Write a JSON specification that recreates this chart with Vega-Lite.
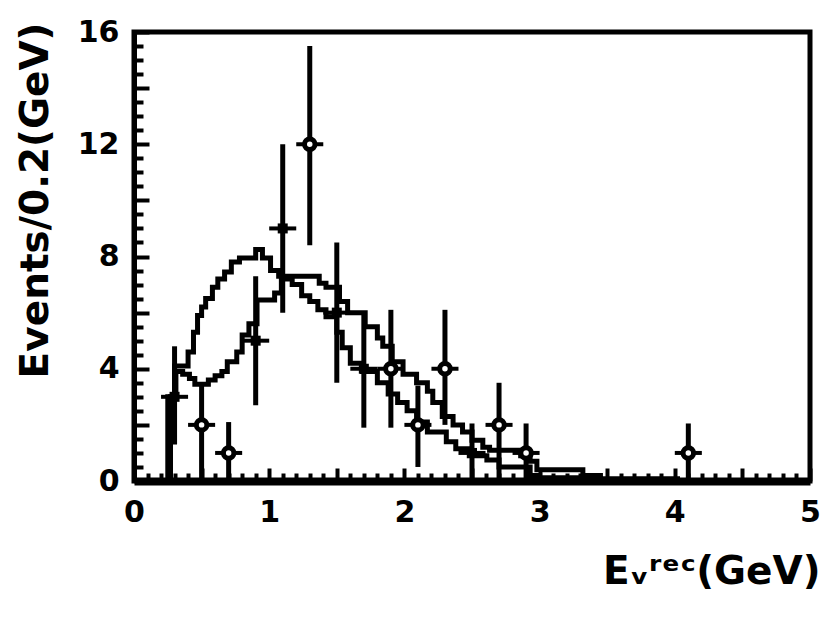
{
  "$schema": "https://vega.github.io/schema/vega-lite/v6.json",
  "autosize": {"type": "none"},
  "padding": {"left": 134, "top": 32, "right": 20, "bottom": 143},
  "width": 676,
  "height": 449,
  "background": "white",
  "config": {
    "view": {"stroke": "black", "strokeWidth": 5},
    "font": "DejaVu Sans",
    "axis": {"grid": false, "tickColor": "black", "domainColor": "black", "labelColor": "black", "titleColor": "black", "zindex": 1}
  },
  "resolve": {"axis": {"x": "independent", "y": "independent"}},
  "datasets": {
    "hist": [
      {"curve": "A", "E": 0.2, "v": 0},
      {"curve": "A", "E": 0.25, "v": 3.0},
      {"curve": "A", "E": 0.3, "v": 4.1},
      {"curve": "A", "E": 0.4, "v": 4.6},
      {"curve": "A", "E": 0.44, "v": 5.3},
      {"curve": "A", "E": 0.47, "v": 5.9},
      {"curve": "A", "E": 0.5, "v": 6.2},
      {"curve": "A", "E": 0.53, "v": 6.5},
      {"curve": "A", "E": 0.58, "v": 6.9},
      {"curve": "A", "E": 0.62, "v": 7.2},
      {"curve": "A", "E": 0.67, "v": 7.45},
      {"curve": "A", "E": 0.72, "v": 7.8},
      {"curve": "A", "E": 0.78, "v": 7.95},
      {"curve": "A", "E": 0.9, "v": 8.25},
      {"curve": "A", "E": 0.95, "v": 7.95},
      {"curve": "A", "E": 1.01, "v": 7.5},
      {"curve": "A", "E": 1.07, "v": 7.3},
      {"curve": "A", "E": 1.37, "v": 7.05},
      {"curve": "A", "E": 1.42, "v": 6.9},
      {"curve": "A", "E": 1.52, "v": 6.4},
      {"curve": "A", "E": 1.58, "v": 6.0},
      {"curve": "A", "E": 1.71, "v": 5.5},
      {"curve": "A", "E": 1.8, "v": 5.1},
      {"curve": "A", "E": 1.84, "v": 4.8},
      {"curve": "A", "E": 1.91, "v": 4.25},
      {"curve": "A", "E": 1.99, "v": 3.8},
      {"curve": "A", "E": 2.09, "v": 3.5},
      {"curve": "A", "E": 2.17, "v": 3.2},
      {"curve": "A", "E": 2.21, "v": 2.8},
      {"curve": "A", "E": 2.28, "v": 2.3},
      {"curve": "A", "E": 2.36, "v": 2.0},
      {"curve": "A", "E": 2.43, "v": 1.75},
      {"curve": "A", "E": 2.5, "v": 1.45},
      {"curve": "A", "E": 2.58, "v": 1.2},
      {"curve": "A", "E": 2.63, "v": 1.1},
      {"curve": "A", "E": 2.86, "v": 0.9},
      {"curve": "A", "E": 2.93, "v": 0.7},
      {"curve": "A", "E": 2.98, "v": 0.4},
      {"curve": "A", "E": 3.32, "v": 0.2},
      {"curve": "A", "E": 3.45, "v": 0.08},
      {"curve": "A", "E": 4.02, "v": 0},
      {"curve": "B", "E": 0.2, "v": 0},
      {"curve": "B", "E": 0.27, "v": 3.0},
      {"curve": "B", "E": 0.31, "v": 3.9},
      {"curve": "B", "E": 0.36, "v": 3.8},
      {"curve": "B", "E": 0.41, "v": 3.65},
      {"curve": "B", "E": 0.45, "v": 3.45},
      {"curve": "B", "E": 0.55, "v": 3.6},
      {"curve": "B", "E": 0.6, "v": 3.75},
      {"curve": "B", "E": 0.65, "v": 3.9},
      {"curve": "B", "E": 0.69, "v": 4.25},
      {"curve": "B", "E": 0.76, "v": 4.6},
      {"curve": "B", "E": 0.8, "v": 5.2},
      {"curve": "B", "E": 0.85, "v": 5.6},
      {"curve": "B", "E": 0.91, "v": 6.45},
      {"curve": "B", "E": 1.04, "v": 6.7},
      {"curve": "B", "E": 1.09, "v": 7.2},
      {"curve": "B", "E": 1.17, "v": 7.0},
      {"curve": "B", "E": 1.24, "v": 6.6},
      {"curve": "B", "E": 1.3, "v": 6.4},
      {"curve": "B", "E": 1.36, "v": 6.1},
      {"curve": "B", "E": 1.42, "v": 5.85},
      {"curve": "B", "E": 1.5, "v": 5.3},
      {"curve": "B", "E": 1.54, "v": 4.75},
      {"curve": "B", "E": 1.6, "v": 4.2},
      {"curve": "B", "E": 1.69, "v": 3.9},
      {"curve": "B", "E": 1.8, "v": 3.5},
      {"curve": "B", "E": 1.88, "v": 3.1},
      {"curve": "B", "E": 1.95, "v": 2.8},
      {"curve": "B", "E": 2.02, "v": 2.5},
      {"curve": "B", "E": 2.09, "v": 2.1},
      {"curve": "B", "E": 2.17, "v": 1.75},
      {"curve": "B", "E": 2.31, "v": 1.4},
      {"curve": "B", "E": 2.38, "v": 1.15},
      {"curve": "B", "E": 2.48, "v": 0.9},
      {"curve": "B", "E": 2.61, "v": 0.75},
      {"curve": "B", "E": 2.7, "v": 0.5},
      {"curve": "B", "E": 2.93, "v": 0.2},
      {"curve": "B", "E": 3.0, "v": 0.12},
      {"curve": "B", "E": 3.35, "v": 0.05},
      {"curve": "B", "E": 4.02, "v": 0}
    ],
    "pts": [
      {"type": "filled", "E": 0.3, "xlo": 0.2, "xhi": 0.4, "y": 3, "lo": 1.3, "hi": 4.8},
      {"type": "filled", "E": 0.9, "xlo": 0.8, "xhi": 1.0, "y": 5, "lo": 2.7, "hi": 7.3},
      {"type": "filled", "E": 1.1, "xlo": 1.0, "xhi": 1.2, "y": 9, "lo": 6.0, "hi": 12.0},
      {"type": "filled", "E": 1.5, "xlo": 1.4, "xhi": 1.6, "y": 6, "lo": 3.5, "hi": 8.5},
      {"type": "filled", "E": 1.7, "xlo": 1.6, "xhi": 1.8, "y": 4, "lo": 1.9, "hi": 6.0},
      {"type": "filled", "E": 2.5, "xlo": 2.4, "xhi": 2.6, "y": 1, "lo": 0, "hi": 2.05},
      {"type": "open", "E": 0.5, "xlo": 0.4, "xhi": 0.6, "y": 2, "lo": 0, "hi": 3.5},
      {"type": "open", "E": 0.7, "xlo": 0.6, "xhi": 0.8, "y": 1, "lo": 0, "hi": 2.1},
      {"type": "open", "E": 1.3, "xlo": 1.2, "xhi": 1.4, "y": 12, "lo": 8.4, "hi": 15.5},
      {"type": "open", "E": 1.9, "xlo": 1.8, "xhi": 2.0, "y": 4, "lo": 1.9, "hi": 6.1},
      {"type": "open", "E": 2.1, "xlo": 2.0, "xhi": 2.2, "y": 2, "lo": 0.5, "hi": 3.4},
      {"type": "open", "E": 2.3, "xlo": 2.2, "xhi": 2.4, "y": 4, "lo": 2.0, "hi": 6.1},
      {"type": "open", "E": 2.7, "xlo": 2.6, "xhi": 2.8, "y": 2, "lo": 0, "hi": 3.5},
      {"type": "open", "E": 2.9, "xlo": 2.8, "xhi": 3.0, "y": 1, "lo": 0, "hi": 2.05},
      {"type": "open", "E": 4.1, "xlo": 4.0, "xhi": 4.2, "y": 1, "lo": 0, "hi": 2.05}
    ]
  },
  "layer": [
    {
      "data": {"name": "hist"},
      "mark": {"type": "line", "interpolate": "step-after", "color": "black", "strokeWidth": 5, "strokeCap": "square"},
      "encoding": {
        "x": {
          "field": "E", "type": "quantitative",
          "scale": {"domain": [0, 5], "nice": false, "zero": false},
          "axis": {
            "orient": "bottom",
            "title": "Eᵥʳᵉᶜ(GeV)",
            "titleFont": "DejaVu Sans", "titleFontSize": 39, "titleFontWeight": "bold",
            "titleAnchor": "end", "titleAlign": "right", "titleBaseline": "alphabetic",
            "titleX": 686, "titleY": 102,
            "values": [0,1,2,3,4,5],
            "format": "d",
            "labelFont": "DejaVu Sans", "labelFontSize": 30, "labelFontWeight": "bold",
            "labelPadding": 16, "labelFlush": false, "labelOverlap": false,
            "ticks": false,
            "domainWidth": 8
          }
        },
        "y": {
          "field": "v", "type": "quantitative",
          "scale": {"domain": [0, 16], "nice": false},
          "axis": {
            "orient": "left",
            "title": "Events/0.2(GeV)",
            "titleFont": "DejaVu Sans", "titleFontSize": 39, "titleFontWeight": "bold",
            "titleAngle": -90, "titleAlign": "center", "titleBaseline": "middle",
            "titleX": -99, "titleY": 168,
            "values": [0,4,8,12,16],
            "format": "d",
            "labelFont": "DejaVu Sans", "labelFontSize": 30, "labelFontWeight": "bold",
            "labelPadding": 15, "labelFlush": false, "labelOverlap": false,
            "ticks": false,
            "domainWidth": 5
          }
        },
        "detail": {"field": "curve", "type": "nominal"}
      }
    },
    {
      "data": {"name": "pts"},
      "mark": {"type": "rule", "color": "black", "strokeWidth": 5},
      "encoding": {
        "x": {
          "field": "E", "type": "quantitative",
          "axis": {
            "orient": "bottom", "title": null, "labels": false, "domain": false,
            "values": [0,0.5,1,1.5,2,2.5,3,3.5,4,4.5,5],
            "tickWidth": 4, "tickSize": -13
          }
        },
        "y": {
          "field": "lo", "type": "quantitative",
          "axis": {
            "orient": "left", "title": null, "labels": false, "domain": false,
            "values": [0,2,4,6,8,10,12,14,16],
            "tickWidth": 4, "tickSize": -15
          }
        },
        "y2": {"field": "hi"}
      }
    },
    {
      "data": {"name": "pts"},
      "mark": {"type": "rule", "color": "black", "strokeWidth": 4},
      "encoding": {
        "x": {
          "field": "xlo", "type": "quantitative",
          "axis": {
            "orient": "bottom", "title": null, "labels": false, "domain": false,
            "values": [0.1,0.2,0.3,0.4,0.6,0.7,0.8,0.9,1.1,1.2,1.3,1.4,1.6,1.7,1.8,1.9,2.1,2.2,2.3,2.4,2.6,2.7,2.8,2.9,3.1,3.2,3.3,3.4,3.6,3.7,3.8,3.9,4.1,4.2,4.3,4.4,4.6,4.7,4.8,4.9],
            "tickWidth": 4, "tickSize": -8
          }
        },
        "x2": {"field": "xhi"},
        "y": {
          "field": "y", "type": "quantitative",
          "axis": {
            "orient": "left", "title": null, "labels": false, "domain": false,
            "values": [0.5,1,1.5,2.5,3,3.5,4.5,5,5.5,6.5,7,7.5,8.5,9,9.5,10.5,11,11.5,12.5,13,13.5,14.5,15,15.5],
            "tickWidth": 4, "tickSize": -9
          }
        }
      }
    },
    {
      "data": {"name": "pts"},
      "transform": [{"filter": "datum.type === 'open'"}],
      "mark": {"type": "point", "shape": "circle", "filled": false, "fill": "white", "fillOpacity": 1, "stroke": "black", "strokeWidth": 5, "opacity": 1, "size": 110},
      "encoding": {
        "x": {"field": "E", "type": "quantitative", "axis": null},
        "y": {"field": "y", "type": "quantitative", "axis": null}
      }
    },
    {
      "data": {"name": "pts"},
      "transform": [{"filter": "datum.type === 'filled'"}],
      "mark": {"type": "point", "shape": "square", "filled": true, "color": "black", "opacity": 1, "size": 100},
      "encoding": {
        "x": {"field": "E", "type": "quantitative", "axis": null},
        "y": {"field": "y", "type": "quantitative", "axis": null}
      }
    }
  ]
}
